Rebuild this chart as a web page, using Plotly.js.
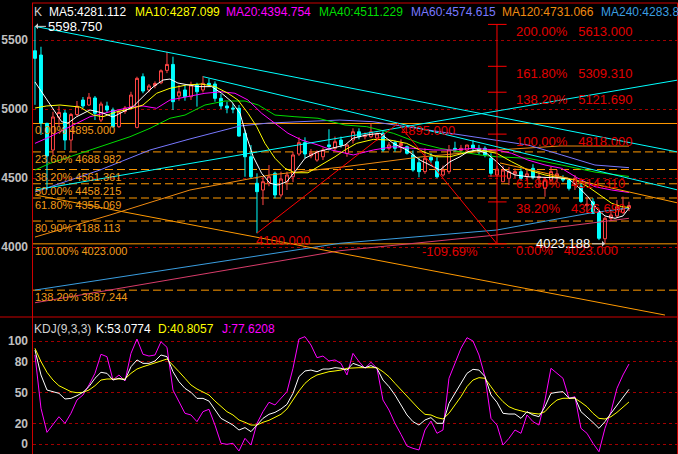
<!DOCTYPE html>
<html><head><meta charset="utf-8">
<script src="https://cdn.plot.ly/plotly-3.0.1.min.js"></script>
<style>html,body{margin:0;padding:0;background:#000;overflow:hidden}</style>
</head><body><div id="chart" style="width:678px;height:454px"></div>
<script>
// ---------- candle data (index 0..99) ----------
const open  = [5422,5391,4896,4703,4940,4971,4775,4960,5065,5029,5080,4920,5022,4993,4872,4982,5015,4867,5234,5138,
  5170,5190,5280,5323,5094,5138,5089,5174,5138,5186,5181,5077,5022,5007,5005,4824,4654,4462,4413,4462,
  4534,4377,4473,4509,4674,4756,4660,4630,4654,4740,4715,4775,4679,4775,4835,4800,4799,4790,4824,4715,
  4756,4735,4727,4667,4611,4546,4650,4618,4522,4546,4715,4700,4703,4739,4715,4715,4643,4522,4473,4498,
  4530,4546,4510,4570,4500,4425,4485,4510,4500,4485,4461,4440,4300,4328,4256,4060,4208,4225,4250,4281];
const high  = [5598.75,5451,4900,4980,5020,4993,4971,5058,5087,5116,5094,5053,5053,5010,4993,5022,5125,5234,5258,5181,
  5200,5287,5415,5379,5174,5170,5198,5190,5239,5220,5200,5110,5053,5040,5029,4850,4739,4534,4509,4594,
  4546,4546,4546,4690,4795,4795,4710,4700,4720,4853,4800,4800,4750,4860,4860,4830,4896,4830,4840,4760,
  4770,4780,4735,4700,4650,4715,4680,4650,4590,4739,4763,4740,4740,4775,4740,4730,4680,4590,4590,4580,
  4570,4570,4560,4600,4550,4500,4582,4560,4520,4500,4522,4470,4365,4353,4270,4220,4268,4340,4365,4328];
const low   = [5030,4812,4413,4667,4870,4703,4690,4944,5007,5022,4920,4905,4973,4862,4862,4965,5000,4860,5114,5120,
  5150,5180,5260,4993,5060,5060,5065,5017,5120,5160,5053,5000,4969,4969,4800,4509,4500,4100,4304,4440,
  4353,4360,4413,4470,4660,4643,4643,4618,4630,4700,4700,4720,4654,4750,4780,4780,4790,4770,4690,4700,
  4690,4690,4670,4546,4505,4530,4610,4498,4510,4530,4690,4680,4680,4700,4670,4650,4509,4510,4470,4449,
  4500,4480,4480,4490,4430,4364,4470,4470,4470,4410,4413,4320,4255,4240,4050,4023.188,4190,4210,4240,4260];
const close = [5367,4898,4660,4942,4975,4775,4960,5020,5022,5085,4969,5036,4993,4872,4980,5007,5101,5222,5130,5167,
  5185,5277,5323,5053,5125,5089,5174,5125,5186,5174,5077,5022,5007,5000,4804,4654,4509,4401,4473,4509,
  4377,4493,4522,4667,4756,4674,4680,4690,4703,4727,4763,4739,4739,4835,4799,4810,4835,4820,4703,4739,
  4715,4750,4679,4558,4546,4643,4630,4509,4558,4703,4703,4715,4739,4715,4690,4667,4534,4565,4558,4546,
  4546,4498,4530,4505,4510,4485,4546,4530,4485,4425,4498,4330,4310,4244,4063,4208,4232,4292,4280,4300];

// ---------- moving averages (bar index, price) ----------
const ma5X = [0,1.67,2.78,4.45,5.5,6.95,9.17,11.33,13,14.67,16.33,18,19.67,21.33,22.5,23.83,25.33,27.17,29.45,31.12,32.78,34.17,35.28,36.38,37.78,39.17,40.5,41.95,43.33,45,47.17,49.45,51.67,53,55.28,57.5,59.72,61.95,64.17,65.83,67.5,69.17,70.83,72.17,73.62,75.28,76.95,78.33,80,82.17,84.45,86.67,88.83,90.5,92.17,93.83,95,96.67,98,99];
const ma5Y = [5196,5089,5017,4908,4898,4944,4993,4971,4942,4978,5017,5089,5159,5210,5217,5188,5174,5162,5162,5114,5053,4969,4799,4654,4534,4462,4449,4473,4546,4643,4691,4715,4739,4788,4812,4824,4751,4703,4630,4594,4558,4618,4654,4691,4703,4679,4618,4558,4522,4509,4505,4505,4498,4437,4364,4268,4225,4208,4225,4281];
const ma10X = [0,1.95,4.17,7.5,9.72,11.33,13.62,15.83,18,20.28,22.5,25.28,27.78,30,32.17,33.83,35.5,36.95,38.33,40,41.67,43.33,45.5,47.78,50,51.67,53.6,56.4,59.17,61.95,64.67,66.95,69.17,71.38,74.17,76.95,79.45,82.17,85,87.78,90,92.17,94.45,96.12,97.78,99];
const ma10Y = [5007,5022,5029,5014,4956,4944,4980,5000,5029,5114,5150,5174,5181,5162,5114,5065,4969,4872,4751,4643,4570,4538,4538,4594,4654,4703,4751,4780,4775,4751,4691,4654,4654,4679,4703,4679,4618,4558,4522,4498,4486,4437,4364,4317,4292,4287];
const ma20X = [0,2.5,5.83,9.17,12.5,15.83,18,20.28,22.5,25.28,28.33,31.12,33.33,35.5,37.78,40,42.17,44.45,47.17,49.45,51.67,53.05,56.38,59.72,63.05,66.38,69.72,73.05,76.95,79.45,82.17,85,87.78,90.5,93.33,96.12,99];
const ma20Y = [4751,4799,4872,4944,4980,5012,5022,5005,5065,5089,5114,5125,5114,5065,4969,4896,4824,4775,4739,4703,4681,4667,4703,4727,4715,4703,4703,4715,4703,4679,4630,4594,4570,4498,4437,4413,4395];
const ma40X = [0,2.5,5.83,9.17,12.5,15.83,19.17,22.5,25,28.33,31.67,35,37.22,40,43.33,47.17,51.67,55.28,59.72,64.17,67.5,70.83,74.17,76.95,82.17,87.78,93.33,99];
const ma40Y = [4558,4606,4654,4703,4751,4799,4860,4933,4956,5029,5058,5058,5029,4956,4944,4933,4884,4872,4824,4751,4715,4691,4667,4654,4643,4594,4543,4511];
const ma60X = [0,10.83,19.17,25.83,34.17,38.83,44.17,50.83,56.33,61.95,67.5,73,76.95,82.17,87.78,93.33,99];
const ma60Y = [4399,4558,4703,4783,4877,4898,4908,4920,4908,4872,4835,4799,4775,4739,4667,4594,4575];
const ma120X = [0,12.5,25.83,39.17,51.67,64.17,77,87.5,99];
const ma120Y = [4072,4232,4413,4522,4582,4652,4703,4732,4731];
const ma240X = [0,25.83,50.83,76.95,92.5,99];
const ma240Y = [3688,3862,4027,4123,4246,4283];
const maLongX = [0,50.83,76.95,99];
const maLongY = [3596,3973,4087,4208];

// ---------- KDJ(9,3,3) ----------
const kdjK = [91.3,67,52.4,50.8,49.2,43.7,44.3,46.9,50.2,55.7,63.8,69.6,68.6,62.1,63.8,62.1,75,81.6,78.3,78.3,
  80.6,86.4,84.8,70.2,60.5,54,50.2,44.3,44.3,41.7,33,24.9,21.7,18.4,13.6,15.9,12,18.4,24.9,28.8,
  30.7,34,38.5,49.2,65.4,70.9,71.8,70.2,72.8,72.8,74.1,73.5,71.8,78.3,76.1,74.1,76.1,73.5,62.1,55.7,
  47.6,37.9,28.2,21.7,18.4,23.3,25.6,20.1,20.1,39.5,49.2,59,68.6,72.5,71.8,65.4,47.6,40.5,29.8,29.1,
  29.1,24.9,31.4,28.2,26.5,36.3,49.2,50.2,50.8,44.4,45,31.4,26.5,21,15.2,21.7,29.8,37.9,46,53.0774];
const kdjD = [92.9,80,69.6,62.1,56.6,53.4,50.8,49.8,50.2,52.4,56.6,62.1,63.1,63.1,63.1,63.1,68.6,72.8,75,76.7,
  78.3,80.6,82.5,76.7,70.2,63.8,57.3,53.4,50.8,47.6,41.7,36.2,31.4,28.2,23.3,21.1,18.4,18.4,21.1,23,
  25.6,28.8,34,42.7,51.5,58.9,63.8,67,68.6,70.2,70.9,71.8,73.5,74.1,74.1,74.1,74.1,74.1,70.2,65.4,
  58.9,52.4,46,39.5,34,28.8,28.2,25.6,24.3,29.8,37.9,46,55.7,62.1,64.4,63.8,55.7,47.6,41.1,36.2,
  33.7,32,30.7,29.8,29.1,31.4,37.9,42.7,44.4,44.4,44.4,40.5,36.2,29.8,24.9,24.3,26.5,30.7,35.3,40.8057];
const kdjJ = [86.4,34.7,11.3,18.4,26.5,20,29.8,42.7,47.6,57.3,68.6,87.1,84.8,62.1,67,61.2,88,101.9,87.1,85.4,
  86.4,99.3,93.9,52.4,41.7,29.8,28.2,21.7,31.4,33.7,18.4,0.7,-0.3,0.7,-6.8,5.5,-1,20.1,31.4,40.5,
  37.9,44.4,50.8,73.5,101.9,104.2,96.1,83.8,85.4,80.6,81.6,78.3,67,88,80,73.5,79.3,73.5,42.7,33,
  20.1,9.4,-1.9,-4.2,-5.8,13.6,22.3,10.4,13.6,63.8,78.3,92.9,103.2,100,86.4,65.4,24.9,18.4,-1,5.5,
  13.6,10.4,28.2,21.7,18.4,42.7,73.5,68.6,63.8,44.4,45.9,15.2,10.4,0.7,-7.5,15.2,31.4,54.1,67,77.6208];

// ---------- Fibonacci levels ----------
const fibLeftPct = ['0.00%','23.60%','38.20%','50.00%','61.80%','80.90%','100.00%','138.20%'];
const fibLeftVal = [4895,4688.982,4561.361,4458.215,4355.069,4188.113,4023,3687.244];
const fibRightPct = ['200.00%','161.80%','138.20%','100.00%','61.80%','38.20%','0.00%'];
const fibRightVal = [5613,5309.31,5121.69,4818,4514.31,4326.69,4023];
const fibRightBar = 77;
// drawn segments: [bar0, price0, bar1, price1]
const cyanLines = [[0,5598.75,107.17,4688],[28.05,5234,107.17,4413],[0,4413,107.17,5210]];
const orangeLines = [[0,4377,105,3507],[77.5,4609,107.17,4319]];
const redLines = [[37,4100,60.5,4895],[60.5,4895,fibRightBar,4023]];

// legend strings
const maNames = ['MA5:4281.112','MA10:4287.099','MA20:4394.754','MA40:4511.229','MA60:4574.615','MA120:4731.066','MA240:4283.8'];
const kdjNames = ['KDJ(9,3,3)','K:53.0774','D:40.8057','J:77.6208'];

// ---------- styling ----------
const W=678,H=454;
const PX = x => x/W, PY = y => 1 - y/H;
const FONT = 'Liberation Sans, Arial, sans-serif';
const ORANGE='#ff9900', RED='#ff0000', CYAN='#00ffff';
const idx = open.map((_, i) => i);

const traces = [
  {type:'candlestick', x:idx, open:open, high:high, low:low, close:close, xaxis:'x', yaxis:'y',
   increasing:{line:{color:'#ff4444',width:1}, fillcolor:'#000000'},
   decreasing:{line:{color:CYAN,width:1}, fillcolor:CYAN}, hoverinfo:'skip'},
];
function line(x,y,c,ax,ay){return {type:'scatter',mode:'lines',x:x,y:y,xaxis:ax||'x',yaxis:ay||'y',line:{color:c,width:1},hoverinfo:'skip'};}
traces.push(line(maLongX,maLongY,'#d83c6a'));
traces.push(line(ma240X,ma240Y,'#3a9ee0'));
traces.push(line(ma120X,ma120Y,'#f08a10'));
traces.push(line(ma60X,ma60Y,'#7878ff'));
traces.push(line(ma40X,ma40Y,'#00dd00'));
traces.push(line(ma20X,ma20Y,'#ff00ff'));
traces.push(line(ma10X,ma10Y,'#ffff00'));
traces.push(line(ma5X,ma5Y,'#ffffff'));
traces.push(line(idx,kdjJ,'#ff00ff','x2','y2'));
traces.push(line(idx,kdjD,'#ffff00','x2','y2'));
traces.push(line(idx,kdjK,'#ffffff','x2','y2'));

const shapes = [];
// fibonacci horizontals (left tool)
fibLeftVal.forEach((v,i)=>{
  const solid = (i===0 || i===6);
  shapes.push({type:'line',xref:'paper',yref:'y',x0:PX(33),x1:1,y0:v,y1:v,layer:'below',
    line:{color:ORANGE,width:1,dash: solid?'solid':'8px,4px'}});
});
// right fib tool
shapes.push({type:'line',xref:'x',yref:'y',x0:fibRightBar,x1:fibRightBar,y0:fibRightVal[6],y1:fibRightVal[0],line:{color:RED,width:1}});
fibRightVal.forEach(v=>{
  shapes.push({type:'line',xref:'x',yref:'y',x0:fibRightBar-1.5,x1:fibRightBar+1.6,y0:v,y1:v,line:{color:RED,width:1}});
});
cyanLines.forEach(s=>shapes.push({type:'line',xref:'x',yref:'y',x0:s[0],y0:s[1],x1:s[2],y1:s[3],line:{color:CYAN,width:1}}));
orangeLines.forEach(s=>shapes.push({type:'line',xref:'x',yref:'y',x0:s[0],y0:s[1],x1:s[2],y1:s[3],line:{color:ORANGE,width:1}}));
redLines.forEach(s=>shapes.push({type:'line',xref:'x',yref:'y',x0:s[0],y0:s[1],x1:s[2],y1:s[3],line:{color:RED,width:1}}));
// frame
const FR='#cc0000';
shapes.push({type:'line',xref:'paper',yref:'paper',x0:PX(32),x1:1,y0:PY(3),y1:PY(3),line:{color:FR,width:1}});
shapes.push({type:'line',xref:'paper',yref:'paper',x0:0,x1:1,y0:PY(317),y1:PY(317),line:{color:FR,width:1}});
shapes.push({type:'line',xref:'paper',yref:'paper',x0:PX(32.5),x1:PX(32.5),y0:0,y1:PY(3),line:{color:FR,width:1}});
shapes.push({type:'line',xref:'paper',yref:'paper',x0:PX(677.5),x1:PX(677.5),y0:0,y1:PY(3),line:{color:FR,width:1}});

const annotations = [];
function txt(x,y,t,c,size,extra){return Object.assign({xref:'paper',yref:'paper',x:PX(x),y:PY(y),text:t,showarrow:false,
  xanchor:'left',yanchor:'middle',font:{family:FONT,size:size||12,color:c}},extra||{});}
annotations.push(txt(32,12,'K','#d0d0d0'));
const maColors = ['#ffffff','#ffff00','#ff00ff','#00dd00','#7878ff','#f08a10','#3a9ee0'];
const maPos = [47,133,224,317,409,500,599];
maNames.forEach((t,i)=>annotations.push(txt(maPos[i],12,t,maColors[i])));
const kdjColors = ['#d0d0d0','#ffffff','#ffff00','#ff00ff'];
const kdjPos = [32,94,156,220];
kdjNames.forEach((t,i)=>annotations.push(txt(kdjPos[i],329,t,kdjColors[i])));
// left fib labels
fibLeftVal.forEach((v,i)=>{
  annotations.push({xref:'paper',yref:'y',x:PX(33),y:v,yshift:-7,text:fibLeftPct[i]+'\u00a0'+v.toFixed(3),showarrow:false,
    xanchor:'left',yanchor:'middle',font:{family:FONT,size:11,color:'#f09a18'}});
});
// right fib labels
fibRightVal.forEach((v,i)=>{
  annotations.push({xref:'paper',yref:'y',x:PX(514),y:v,yshift:-7,text:fibRightPct[i]+'\u00a0\u00a0\u00a0'+v.toFixed(3),showarrow:false,
    xanchor:'left',yanchor:'middle',font:{family:FONT,size:13,color:'#e00000'}});
});
annotations.push({xref:'paper',yref:'y',x:PX(399),y:redLines[0][3],yshift:-7,text:redLines[0][3].toFixed(3),showarrow:false,xanchor:'left',yanchor:'middle',font:{family:FONT,size:13,color:'#e00000'}});
annotations.push({xref:'paper',yref:'y',x:PX(254),y:redLines[0][1],yshift:-7,text:redLines[0][1].toFixed(3),showarrow:false,xanchor:'left',yanchor:'middle',font:{family:FONT,size:13,color:'#e00000'}});
annotations.push({xref:'paper',yref:'y',x:PX(420),y:redLines[1][3],yshift:-8,text:'-109.69%',showarrow:false,xanchor:'left',yanchor:'middle',font:{family:FONT,size:13,color:'#e00000'}});
// high / low markers
annotations.push({xref:'x',yref:'y',x:0,y:high[0],text:high[0].toFixed(3),showarrow:true,ax:11,ay:0,xanchor:'left',
  arrowhead:1,arrowsize:1,arrowwidth:1,arrowcolor:'#d0d0d0',font:{family:FONT,size:13,color:'#ffffff'}});
annotations.push({xref:'x',yref:'y',x:95,y:low[95],text:low[95].toFixed(3),showarrow:true,ax:-13,ay:0,xanchor:'right',
  arrowhead:1,arrowsize:1,arrowwidth:1,arrowcolor:'#d0d0d0',font:{family:FONT,size:13,color:'#ffffff'}});

const xr = [-0.33,107.17];
const tickfont = {family:FONT,size:12,color:'#c0c0c0',weight:'bold'};
const layout = {
  width:W,height:H,margin:{l:0,r:0,t:0,b:0},paper_bgcolor:'#000',plot_bgcolor:'#000',showlegend:false,
  font:{family:FONT},
  xaxis:{domain:[PX(33),1],range:xr,showticklabels:false,showgrid:false,zeroline:false,showline:false,
    rangeslider:{visible:false},anchor:'y',fixedrange:true},
  yaxis:{domain:[1-317/H,1-3/H],range:[3492.8,5768.1],tickvals:[4000,4500,5000,5500],ticks:'',
    showgrid:true,gridcolor:'#a00000',griddash:'dot',gridwidth:1,zeroline:false,showline:false,
    tickfont:tickfont,ticklabelstandoff:4,anchor:'x',fixedrange:true},
  xaxis2:{domain:[PX(33),1],range:xr,showticklabels:false,showgrid:false,zeroline:false,anchor:'y2',fixedrange:true},
  yaxis2:{domain:[0,1-317/H],range:[-9.7,123.3],tickvals:[0,20,50,80,100],ticks:'',
    showgrid:true,gridcolor:'#a00000',griddash:'dot',gridwidth:1,zeroline:false,showline:false,
    tickfont:tickfont,ticklabelstandoff:4,anchor:'x2',fixedrange:true},
  shapes:shapes, annotations:annotations
};
Plotly.newPlot('chart',traces,layout,{staticPlot:true,displayModeBar:false});
</script></body></html>
